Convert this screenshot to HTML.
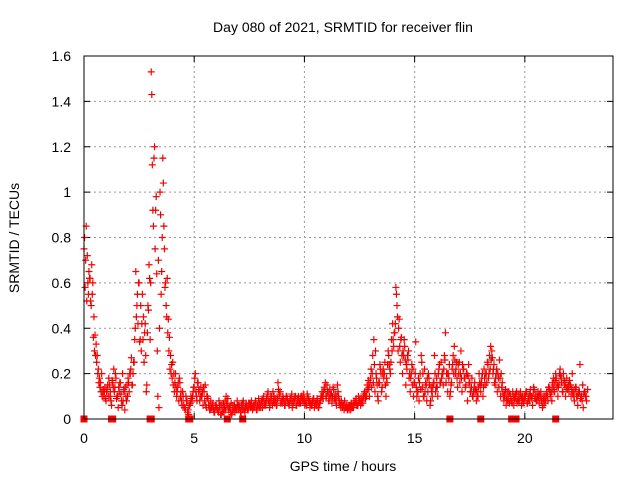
<!DOCTYPE html>
<html><head><meta charset="utf-8"><style>
body{margin:0;background:#fff}
svg{display:block;font-family:"Liberation Sans",sans-serif}
</style></head><body>
<svg id="chart" width="640" height="480" viewBox="0 0 640 480">
<text x="343" y="32" font-size="14" text-anchor="middle">Day 080 of 2021, SRMTID for receiver flin</text>
<text x="343" y="471" font-size="14" text-anchor="middle">GPS time / hours</text>
<text transform="translate(19,238) rotate(-90)" font-size="14" text-anchor="middle">SRMTID / TECUs</text>
<g id="grid"></g>
<g id="ticks"></g>
<g id="marks"></g>
<rect x="84" y="56" width="529" height="363" fill="none" stroke="#000" stroke-width="1"/>
</svg>
<script>
const xTicks=[0,5,10,15,20];
const yTicks=[0,0.2,0.4,0.6,0.8,1,1.2,1.4,1.6];
const yTickLabels=["0","0.2","0.4","0.6","0.8","1","1.2","1.4","1.6"];
const step1=0.05;
const series1=[
0.75,0.58,0.85,0.72,0.55,0.62,0.52,0.68,0.6,0.45,0.37,0.33,0.28,0.22,0.18,0.16,0.2,0.12,0.1,0.14,
0.08,0.13,0.1,0.15,0.12,0.06,0.16,0.22,0.14,0.18,0.1,0.05,0.12,0.16,0.08,0.2,0.13,0.04,0.1,0.15,
0.18,0.12,0.2,0.27,0.15,0.25,0.35,0.65,0.5,0.42,0.6,0.35,0.3,0.55,0.45,0.38,0.28,0.15,0.5,0.68,
0.35,1.53,1.12,0.85,1.2,0.92,0.64,0.1,0.05,1.0,0.55,0.8,1.04,0.75,0.6,0.45,0.38,0.3,0.22,0.2,
0.18,0.15,0.12,0.2,0.1,0.14,0.08,0.16,0.12,0.06,0.1,0.05,0.04,0.08,0.03,0.02,0.06,0.1,0.08,0.12,
0.14,0.2,0.1,0.16,0.12,0.08,0.14,0.1,0.06,0.12,0.15,0.05,0.1,0.06,0.04,0.08,0.05,0.07,0.03,0.05,
0.06,0.04,0.03,0.05,0.02,0.06,0.04,0.03,0.08,0.1,0.06,0.04,0.05,0.03,0.02,0.06,0.04,0.03,0.05,0.08,
0.04,0.05,0.03,0.06,0.04,0.05,0.03,0.07,0.05,0.04,0.06,0.05,0.08,0.04,0.06,0.05,0.07,0.04,0.06,0.05,
0.06,0.08,0.05,0.1,0.07,0.06,0.09,0.12,0.08,0.07,0.1,0.06,0.08,0.07,0.09,0.06,0.16,0.1,0.12,0.08,
0.07,0.09,0.06,0.08,0.1,0.07,0.06,0.09,0.08,0.05,0.07,0.09,0.1,0.06,0.08,0.07,0.09,0.1,0.08,0.11,
0.09,0.07,0.06,0.1,0.08,0.05,0.07,0.06,0.09,0.05,0.07,0.06,0.08,0.05,0.07,0.1,0.12,0.09,0.14,0.16,
0.1,0.12,0.08,0.13,0.1,0.07,0.14,0.09,0.11,0.06,0.15,0.1,0.08,0.05,0.07,0.06,0.04,0.05,0.06,0.04,
0.05,0.06,0.04,0.05,0.06,0.08,0.07,0.09,0.06,0.1,0.08,0.06,0.09,0.07,0.11,0.1,0.12,0.15,0.17,0.1,
0.18,0.14,0.28,0.35,0.12,0.2,0.15,0.08,0.16,0.22,0.12,0.2,0.18,0.25,0.1,0.16,0.3,0.24,0.2,0.35,
0.42,0.32,0.38,0.58,0.5,0.3,0.44,0.25,0.36,0.2,0.28,0.32,0.15,0.22,0.26,0.18,0.12,0.2,0.15,0.1,
0.16,0.34,0.1,0.12,0.08,0.2,0.28,0.14,0.1,0.22,0.16,0.08,0.12,0.18,0.06,0.14,0.1,0.16,0.28,0.12,
0.18,0.1,0.22,0.16,0.25,0.2,0.15,0.28,0.38,0.2,0.12,0.18,0.1,0.15,0.22,0.28,0.32,0.2,0.25,0.14,
0.2,0.16,0.3,0.12,0.22,0.18,0.14,0.2,0.08,0.24,0.16,0.12,0.18,0.1,0.14,0.12,0.08,0.1,0.14,0.16,
0.12,0.18,0.1,0.22,0.15,0.2,0.25,0.18,0.28,0.32,0.3,0.2,0.24,0.15,0.2,0.12,0.18,0.26,0.1,0.14,
0.12,0.08,0.1,0.06,0.12,0.09,0.07,0.1,0.08,0.12,0.06,0.1,0.09,0.07,0.11,0.08,0.12,0.06,0.1,0.08,
0.09,0.12,0.07,0.1,0.08,0.13,0.1,0.06,0.14,0.09,0.11,0.08,0.12,0.07,0.1,0.08,0.05,0.09,0.07,0.1,
0.12,0.08,0.14,0.1,0.12,0.16,0.18,0.12,0.2,0.14,0.1,0.16,0.22,0.18,0.12,0.2,0.15,0.1,0.18,0.14,
0.12,0.15,0.1,0.2,0.12,0.08,0.14,0.1,0.06,0.12,0.24,0.1,0.08,0.05,0.12,0.1,0.08,0.13];
const step2=0.1;
const offset2=0.025;
const series2=[
0.8,0.52,0.65,0.5,0.36,0.28,0.2,0.14,0.1,0.12,
0.12,0.18,0.08,0.14,0.2,0.1,0.16,0.06,0.12,0.08,
0.16,0.22,0.2,0.4,0.55,0.34,0.42,0.25,0.12,0.48,
0.6,0.92,0.75,0.3,0.4,0.65,0.85,0.5,0.44,0.28,
0.25,0.16,0.12,0.18,0.08,0.06,0.1,0.04,0.07,0.1,
0.18,0.08,0.13,0.1,0.14,0.06,0.09,0.04,0.06,0.03,
0.05,0.08,0.02,0.07,0.04,0.09,0.05,0.03,0.06,0.04,
0.06,0.03,0.08,0.05,0.04,0.07,0.05,0.06,0.04,0.09,
0.05,0.09,0.07,0.11,0.05,0.08,0.1,0.06,0.13,0.07,
0.1,0.06,0.09,0.07,0.11,0.08,0.06,0.1,0.07,0.09,
0.06,0.11,0.08,0.06,0.09,0.07,0.05,0.08,0.1,0.13,
0.15,0.09,0.11,0.13,0.08,0.12,0.06,0.05,0.08,0.05,
0.04,0.07,0.05,0.08,0.06,0.09,0.08,0.12,0.1,0.14,
0.22,0.16,0.3,0.1,0.24,0.14,0.2,0.18,0.28,0.25,
0.35,0.42,0.45,0.32,0.28,0.35,0.24,0.3,0.18,0.22,
0.2,0.12,0.16,0.25,0.1,0.15,0.2,0.08,0.14,0.2,
0.14,0.24,0.18,0.22,0.16,0.2,0.12,0.24,0.26,0.18,
0.25,0.18,0.22,0.15,0.19,0.12,0.1,0.16,0.12,0.2,
0.16,0.14,0.2,0.24,0.22,0.27,0.16,0.22,0.14,0.2,
0.1,0.13,0.08,0.11,0.07,0.09,0.12,0.08,0.1,0.07,
0.1,0.07,0.11,0.09,0.13,0.08,0.1,0.12,0.06,0.08,
0.1,0.13,0.08,0.15,0.18,0.14,0.19,0.12,0.16,0.13,
0.17,0.13,0.1,0.14,0.11,0.09,0.15,0.12];
const step3=0.1;
const offset3=0.075;
const series3=[
0.7,0.6,0.62,0.55,0.3,0.25,0.16,0.12,0.13,0.09,
0.15,0.1,0.17,0.12,0.09,0.14,0.11,0.08,0.14,0.1,
0.2,0.15,0.25,0.45,0.6,0.5,0.35,0.42,0.38,0.62,
1.43,1.15,0.98,0.7,0.9,1.15,0.58,0.62,0.36,0.24,
0.2,0.14,0.16,0.1,0.12,0.05,0.08,0.06,0.09,0.14,
0.12,0.16,0.1,0.12,0.08,0.1,0.06,0.05,0.04,0.06,
0.04,0.06,0.03,0.05,0.07,0.05,0.07,0.04,0.05,0.06,
0.05,0.07,0.04,0.06,0.07,0.06,0.05,0.08,0.06,0.07,
0.08,0.06,0.09,0.08,0.1,0.12,0.08,0.09,0.11,0.08,
0.08,0.1,0.07,0.09,0.08,0.1,0.09,0.07,0.1,0.08,
0.08,0.09,0.07,0.08,0.06,0.09,0.07,0.1,0.12,0.1,
0.12,0.11,0.1,0.09,0.1,0.07,0.08,0.06,0.05,0.06,
0.06,0.05,0.07,0.06,0.08,0.07,0.1,0.09,0.13,0.16,
0.2,0.24,0.18,0.16,0.2,0.22,0.15,0.24,0.22,0.3,
0.38,0.55,0.4,0.35,0.3,0.26,0.28,0.2,0.24,0.16,
0.14,0.18,0.13,0.2,0.12,0.18,0.15,0.12,0.16,0.14,
0.2,0.16,0.2,0.26,0.2,0.24,0.16,0.2,0.22,0.24,
0.2,0.24,0.18,0.2,0.16,0.14,0.12,0.13,0.1,0.15,
0.2,0.18,0.16,0.2,0.26,0.22,0.18,0.2,0.18,0.16,
0.11,0.09,0.12,0.08,0.1,0.11,0.08,0.11,0.09,0.1,
0.12,0.09,0.1,0.11,0.09,0.1,0.11,0.09,0.1,0.11,
0.14,0.11,0.13,0.17,0.15,0.2,0.16,0.17,0.14,0.15,
0.15,0.11,0.13,0.1,0.12,0.1,0.11,0.1];
const zeroTimes=[0,1.25,1.3,3.0,3.05,4.75,4.8,6.5,7.2,16.6,18,19.4,19.5,19.6,21.4];

const X0=84,X1=613,Y0=419,Y1=56,XMAX=24,YMAX=1.6;
function xs(v){return X0+(v/XMAX)*(X1-X0);}
function ys(v){return Y0-(v/YMAX)*(Y0-Y1);}
const NS="http://www.w3.org/2000/svg";
const grid=document.getElementById('grid'),ticks=document.getElementById('ticks'),marks=document.getElementById('marks');
function mk(tag,attrs,parent){const e=document.createElementNS(NS,tag);for(const k in attrs)e.setAttribute(k,attrs[k]);parent.appendChild(e);return e;}
xTicks.forEach(t=>{
  const x=xs(t);
  if(t>0){const g=mk('line',{x1:x,x2:x,y1:Y1,y2:Y0,stroke:'#999','stroke-dasharray':'2,3'},grid);
  
  }
  const tk=mk('path',{d:`M${x},${Y0}v-6M${x},${Y1}v6`,stroke:'#000'},ticks);
  
  
  const l=mk('text',{x:x,y:443,'font-size':14,'text-anchor':'middle'},ticks);l.textContent=t;
  
  
});
yTicks.forEach((t,i)=>{
  const y=ys(t);
  if(t>0&&t<YMAX){const g=mk('line',{x1:X0,x2:X1,y1:y,y2:y,stroke:'#999','stroke-dasharray':'2,3'},grid);
  
  }
  const tk=mk('path',{d:`M${X0},${y}h6M${X1},${y}h-6`,stroke:'#000'},ticks);
  
  
  const l=mk('text',{x:71,y:y+5,'font-size':14,'text-anchor':'end'},ticks);l.textContent=yTickLabels[i];
  
  
});
function cross(t,v,name,color){
  const x=xs(t),y=ys(v);
  const p=mk('path',{d:`M${x-3.5},${y}h7M${x},${y-3.5}v7`,stroke:color,'stroke-width':1.2},marks);
  
  
}
series3.forEach((v,i)=>cross(offset3+i*step3,v,'point-series3','#e00000'));
series2.forEach((v,i)=>cross(offset2+i*step2,v,'point-series2','#e00000'));
series1.forEach((v,i)=>cross(i*step1,v,'point-series1','#ff0000'));
zeroTimes.forEach(t=>{
  const x=xs(t);
  const r=mk('rect',{x:x-3.5,y:Y0-3.5,width:7,height:7,fill:'#ff0000'},marks);
  
  
});
</script>
</body></html>
